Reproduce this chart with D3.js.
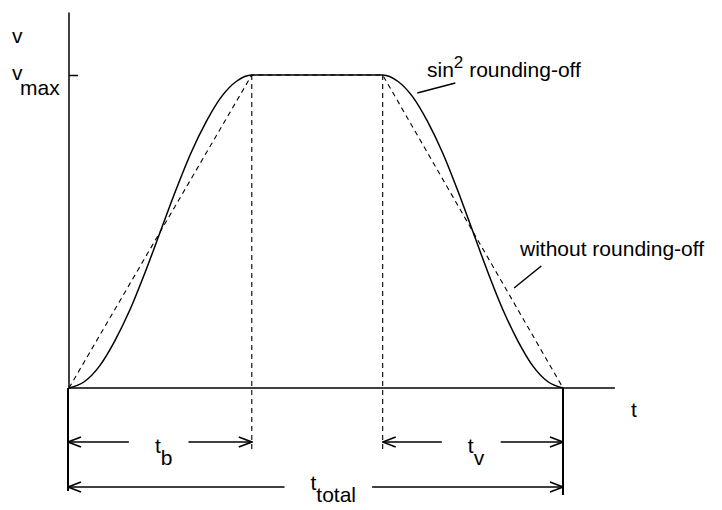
<!DOCTYPE html>
<style>
  body { margin: 0; background: #fff; }
  text { font-family: "Liberation Sans", Arial, sans-serif; font-size: 21px; fill: #000; }
</style>
<body></body>
<script src="https://cdn.jsdelivr.net/npm/d3@7"></script>
<script>
  const width = 722
  const height = 510

  // phase boundaries: start, end of acceleration, start of deceleration, end
  const phaseTimes = [0, 3.7, 6.35, 10]
  const vMax = 1
  // sin^2 ramp: fraction of ramp time -> fraction of vmax
  const rampFrac = [0, 1/12, 2/12, 3/12, 4/12, 5/12, 6/12, 7/12, 8/12, 9/12, 10/12, 11/12, 1]
  const rampV = [0, 0.02, 0.07, 0.15, 0.25, 0.37, 0.5, 0.63, 0.75, 0.85, 0.93, 0.98, 1]
  const dimLabels = [
    { from: 0, to: 1, main: "t", sub: "b", row: 0 },
    { from: 2, to: 3, main: "t", sub: "v", row: 0 },
    { from: 0, to: 3, main: "t", sub: "total", row: 1 }
  ]

  const x = d3.scaleLinear().domain([0, 10]).range([69, 563])
  const y = d3.scaleLinear().domain([0, 1]).range([388, 75])
  const rowY = [442, 487]
  const rowTextDy = [11, 3]

  const svg = d3.select("body").append("svg")
    .attr("width", width)
    .attr("height", height)

  svg.append("defs").append("marker")
    .attr("id", "chev")
    .attr("viewBox", "-15 -7 16 14")
    .attr("refX", 0).attr("refY", 0)
    .attr("markerWidth", 16).attr("markerHeight", 14)
    .attr("markerUnits", "userSpaceOnUse")
    .attr("orient", "auto")
    .append("path")
    .attr("d", "M-13,-5L0,0L-13,5")
    .attr("fill", "none")
    .attr("stroke", "#000")
    .attr("stroke-width", 1.6)

  const [t0, tb, tc, te] = phaseTimes

  // axes
  svg.append("line")
    .attr("x1", x(t0)).attr("x2", x(t0))
    .attr("y1", y(1.2)).attr("y2", y(0))
    .attr("stroke", "#000").attr("stroke-width", 1.5)
  svg.append("line")
    .attr("x1", x(t0)).attr("x2", x(11.05))
    .attr("y1", y(0)).attr("y2", y(0))
    .attr("stroke", "#000").attr("stroke-width", 1.5)

  const yAxis = d3.axisLeft(y).tickValues([vMax]).tickSize(9).tickFormat("")
  const ya = svg.append("g")
    .attr("transform", `translate(${x(t0)},0)`)
    .call(yAxis)
  ya.select(".domain").remove()
  ya.selectAll(".tick line").attr("x2", 9).attr("stroke-width", 1.5)

  // axis labels
  svg.append("text").attr("x", 12).attr("y", 43).text("v")
  const vm = svg.append("text").attr("x", 12).attr("y", 80)
  vm.append("tspan").text("v")
  vm.append("tspan").attr("x", 20).attr("dy", 15).text("max")
  svg.append("text").attr("x", 631).attr("y", 417).text("t")

  // linear profile (dashed)
  const linePts = [[t0, 0], [tb, vMax], [tc, vMax], [te, 0]]
  const line = d3.line().x(d => x(d[0])).y(d => y(d[1]))
  svg.append("path")
    .attr("d", line(linePts))
    .attr("fill", "none").attr("stroke", "#000")
    .attr("stroke-width", 1.1).attr("stroke-dasharray", "5,4")

  // sin^2 profile (solid)
  const up = rampFrac.map((f, i) => [t0 + f * (tb - t0), rampV[i] * vMax])
  const down = rampFrac.map((f, i) => [tc + f * (te - tc), rampV[rampV.length - 1 - i] * vMax])
  const smooth = d3.line().x(d => x(d[0])).y(d => y(d[1])).curve(d3.curveMonotoneX)
  svg.append("path")
    .attr("d", smooth(up.concat(down)))
    .attr("fill", "none").attr("stroke", "#000").attr("stroke-width", 1.5)

  // extension lines
  ;[tb, tc].forEach(t => {
    svg.append("line")
      .attr("x1", x(t)).attr("x2", x(t))
      .attr("y1", y(vMax)).attr("y2", 452)
      .attr("stroke", "#000").attr("stroke-width", 1.1)
      .attr("stroke-dasharray", "5,4")
  })
  svg.append("line")
    .attr("x1", x(t0) - 1).attr("x2", x(t0) - 1)
    .attr("y1", y(0)).attr("y2", 491)
    .attr("stroke", "#000").attr("stroke-width", 2)
  svg.append("line")
    .attr("x1", x(te)).attr("x2", x(te))
    .attr("y1", y(0)).attr("y2", 495)
    .attr("stroke", "#000").attr("stroke-width", 2)

  // dimension arrows with labels
  dimLabels.forEach(d => {
    const xa = x(phaseTimes[d.from]) - (d.from === 0 ? 1 : 0)
    const xb = x(phaseTimes[d.to])
    const yy = rowY[d.row]
    const mid = (xa + xb) / 2
    const lbl = svg.append("text").attr("x", mid - 5).attr("y", yy + rowTextDy[d.row])
    lbl.append("tspan").text(d.main)
    lbl.append("tspan").attr("dy", 12).text(d.sub)
    const bb = lbl.node().getBBox()
    svg.append("line")
      .attr("x1", bb.x - 26).attr("x2", xa)
      .attr("y1", yy).attr("y2", yy)
      .attr("stroke", "#000").attr("stroke-width", 1.6)
      .attr("marker-end", "url(#chev)")
    svg.append("line")
      .attr("x1", bb.x + bb.width + 16).attr("x2", xb)
      .attr("y1", yy).attr("y2", yy)
      .attr("stroke", "#000").attr("stroke-width", 1.6)
      .attr("marker-end", "url(#chev)")
  })

  // annotations
  const sinLbl = svg.append("text").attr("x", 427).attr("y", 77)
  sinLbl.append("tspan").text("sin")
  sinLbl.append("tspan").attr("dy", -9).style("font-size", "17px").text("2")
  sinLbl.append("tspan").attr("dy", 9).text(" rounding-off")
  svg.append("line")
    .attr("x1", x(7.05)).attr("y1", 93).attr("x2", x(7.82)).attr("y2", 83)
    .attr("stroke", "#000").attr("stroke-width", 1.5)

  svg.append("text").attr("x", 520).attr("y", 256).text("without rounding-off")
  svg.append("line")
    .attr("x1", x(9.01)).attr("y1", 288).attr("x2", x(9.56)).attr("y2", 266)
    .attr("stroke", "#000").attr("stroke-width", 1.5)
</script>
